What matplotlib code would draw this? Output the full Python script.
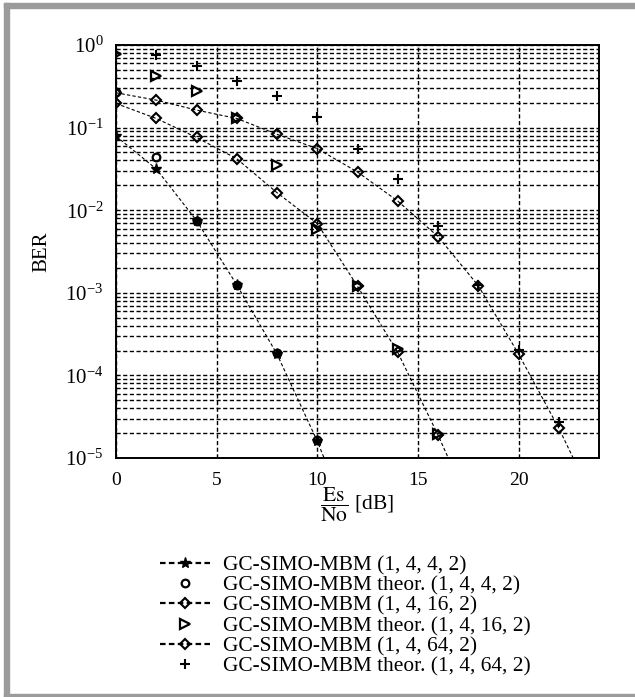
import matplotlib
matplotlib.use("Agg")
import matplotlib.pyplot as plt
from matplotlib.lines import Line2D
from matplotlib.patches import Rectangle
from matplotlib.ticker import LogLocator, NullFormatter, FixedLocator

plt.rcParams["font.family"] = ["Liberation Serif", "DejaVu Serif"]
plt.rcParams["mathtext.fontset"] = "stix"
plt.rcParams["font.size"] = 14

# Es/No [dB]
snr_4 = [0, 2, 4, 6, 8, 10, 11]
ber_4 = [0.0787, 0.0316, 0.0075, 1.25e-3, 1.81e-4, 1.6e-5, 4.0e-6]
snr_4_th = [0, 2, 4, 6, 8, 10]
ber_4_th = [0.27, 0.044, 0.0075, 1.25e-3, 1.85e-4, 1.65e-5]

snr_16 = [0, 2, 4, 6, 8, 10, 12, 14, 16, 17]
ber_16 = [0.196, 0.129, 0.076, 0.042, 0.0163, 0.0069, 1.2e-3, 1.9e-4, 1.9e-5, 5.4e-6]
snr_16_th = [0, 2, 4, 6, 8, 10, 12, 14, 16]
ber_16_th = [0.77, 0.42, 0.277, 0.129, 0.035, 0.006, 1.2e-3, 2.1e-4, 1.94e-5]

snr_64 = [0, 2, 4, 6, 8, 10, 12, 14, 16, 18, 20, 22, 23]
ber_64 = [0.264, 0.215, 0.163, 0.129, 0.083, 0.0557, 0.029, 0.0129, 0.0048,
          1.22e-3, 1.82e-4, 2.3e-5, 7.2e-6]
snr_64_th = [2, 4, 6, 8, 10, 12, 14, 16, 18, 20, 22]
ber_64_th = [0.75, 0.556, 0.369, 0.24, 0.133, 0.0557, 0.0241, 0.0064,
             1.25e-3, 2.03e-4, 2.75e-5]

labels = [
    "GC-SIMO-MBM (1, 4, 4, 2)",
    "GC-SIMO-MBM theor. (1, 4, 4, 2)",
    "GC-SIMO-MBM (1, 4, 16, 2)",
    "GC-SIMO-MBM theor. (1, 4, 16, 2)",
    "GC-SIMO-MBM (1, 4, 64, 2)",
    "GC-SIMO-MBM theor. (1, 4, 64, 2)",
]

W, H = 635, 697
fig = plt.figure(figsize=(W / 100, H / 100), dpi=100)
ax = fig.add_axes([116 / W, 1 - 458 / H, (599 - 116) / W, (458 - 45) / H])

# grey frame
gray = "#9b9b9b"
fig.patches.append(Rectangle((4 / W, 0), 5 / W, 1 - 3 / H, transform=fig.transFigure, color=gray))
fig.patches.append(Rectangle((4 / W, 1 - 8 / H), 1, 5 / H, transform=fig.transFigure, color=gray))
fig.patches.append(Rectangle((4 / W, 0), 1, 3 / H, transform=fig.transFigure, color=gray))

dash = (0, (3, 2))
k = "black"
sim_4 = dict(color=k, marker="*", ms=8, mfc=k, mec=k)
th_4 = dict(marker="o", ms=5.5, mfc="none", mec=k, mew=1.6)
sim_16 = dict(color=k, marker="D", ms=5, mfc="none", mec=k, mew=1.5)
th_16 = dict(marker=">", ms=6.5, mfc="none", mec=k, mew=1.6)
sim_64 = dict(color=k, marker="D", ms=5, mfc="none", mec=k, mew=1.5)
th_64 = dict(marker="+", ms=7, mec=k, mew=1.5)

ax.plot(snr_4, ber_4, ls=dash, lw=0.8, markevery=slice(0, -1), **sim_4)
ax.plot(snr_4_th, ber_4_th, ls="none", **th_4)
ax.plot(snr_16, ber_16, ls=dash, lw=0.8, markevery=slice(0, -1), **sim_16)
ax.plot(snr_16_th, ber_16_th, ls="none", **th_16)
ax.plot(snr_64, ber_64, ls=dash, lw=0.8, markevery=slice(0, -1), **sim_64)
ax.plot(snr_64_th, ber_64_th, ls="none", **th_64)

ax.set_yscale("log")
ax.set_xlim(0, 24)
ax.set_ylim(1e-5, 1)
ax.xaxis.set_major_locator(FixedLocator([0, 5, 10, 15, 20]))
ax.yaxis.set_major_locator(LogLocator(base=10, numticks=10))
ax.yaxis.set_minor_locator(LogLocator(base=10, subs=range(2, 10), numticks=20))
ax.yaxis.set_minor_formatter(NullFormatter())
ax.tick_params(which="both", length=0)
ax.tick_params(axis="x", pad=10)
ax.tick_params(axis="y", pad=9, labelsize=15)
ax.grid(True, which="both", axis="y", color=k, ls=(0, (3, 1.8)), lw=1.0)
ax.grid(True, which="major", axis="x", color=k, ls=(0, (3, 1.8)), lw=1.0)
for s in ax.spines.values():
    s.set_linewidth(1.4)

ax.set_ylabel("BER", fontsize=15, labelpad=10)
fig.text(357 / W, 1 - 505 / H, r"$\dfrac{\mathrm{Es}}{\mathrm{No}}$ [dB]",
         ha="center", va="center", fontsize=15.5)

# legend proxies, the dashes there are drawn heavier than in the plot
handles = [
    Line2D([], [], ls=(0, (2.5, 1.5)), lw=1.6, **sim_4),
    Line2D([], [], ls="none", **th_4),
    Line2D([], [], ls=(0, (2.5, 1.5)), lw=1.6, **sim_16),
    Line2D([], [], ls="none", **th_16),
    Line2D([], [], ls=(0, (2.5, 1.5)), lw=1.6, **sim_64),
    Line2D([], [], ls="none", **th_64),
]
fig.legend(handles, labels, loc="upper left",
           bbox_to_anchor=(151 / W, 1 - 547 / H), frameon=False,
           fontsize=15.4, handlelength=2.35, handletextpad=0.6,
           labelspacing=0.01, borderaxespad=0)

fig.savefig("out.png", dpi=100)
